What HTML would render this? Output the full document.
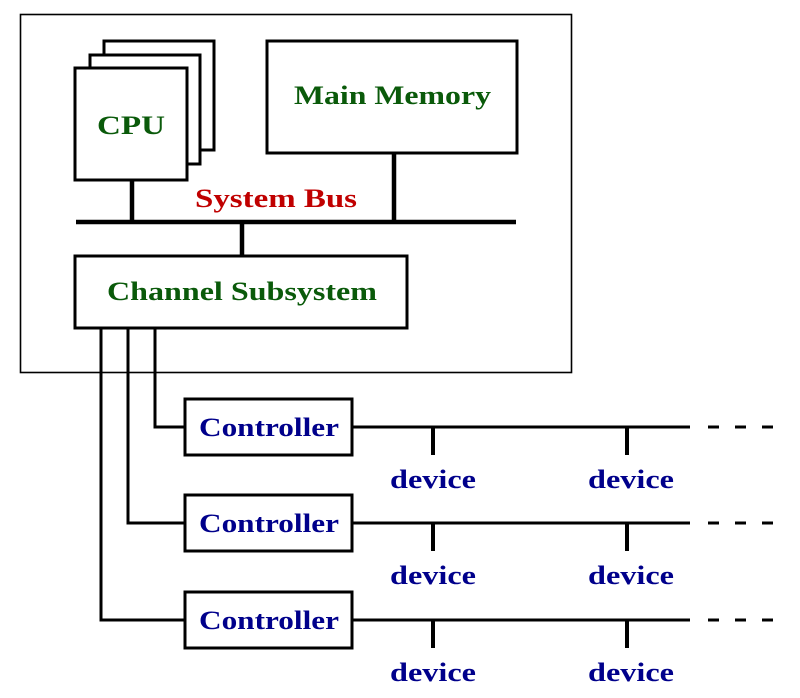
<!DOCTYPE html>
<html><head><meta charset="utf-8"><style>
html,body{margin:0;padding:0;background:#fff;}
svg text{font-family:"Liberation Serif","DejaVu Serif",serif;font-weight:bold;font-size:26px;}
</style></head><body>
<svg width="800" height="693" viewBox="0 0 800 693" xmlns="http://www.w3.org/2000/svg">
<rect x="20.5" y="14.5" width="551" height="358" fill="none" stroke="#000" stroke-width="1.6"/>
<g fill="#fff" stroke="#000" stroke-width="3">
<rect x="104" y="41" width="110" height="109"/>
<rect x="90" y="55" width="110" height="109"/>
<rect x="75" y="68" width="112" height="112"/>
<rect x="267" y="41" width="250" height="112"/>
<rect x="75" y="256" width="332" height="72"/>
<rect x="185" y="399" width="167" height="56"/>
<rect x="185" y="495" width="167" height="56"/>
<rect x="185" y="592" width="167" height="56"/>
</g>
<g stroke="#000" fill="none">
<line x1="76" y1="222" x2="516" y2="222" stroke-width="4.5"/>
<line x1="132" y1="180" x2="132" y2="222" stroke-width="4.5"/>
<line x1="394" y1="153" x2="394" y2="222" stroke-width="4.5"/>
<line x1="242" y1="222" x2="242" y2="256" stroke-width="4.5"/>
<g stroke-width="3">
<polyline points="155,328 155,427 185,427"/>
<polyline points="128,328 128,523 185,523"/>
<polyline points="101,328 101,620 185,620"/>
<line x1="352" y1="427" x2="690" y2="427"/>
<line x1="352" y1="523" x2="690" y2="523"/>
<line x1="352" y1="620" x2="690" y2="620"/>
<line x1="708" y1="427" x2="775" y2="427" stroke-dasharray="11,16"/>
<line x1="708" y1="523" x2="775" y2="523" stroke-dasharray="11,16"/>
<line x1="708" y1="620" x2="775" y2="620" stroke-dasharray="11,16"/>
</g>
<g stroke-width="4">
<line x1="433" y1="427" x2="433" y2="455"/>
<line x1="627" y1="427" x2="627" y2="455"/>
<line x1="433" y1="523" x2="433" y2="551"/>
<line x1="627" y1="523" x2="627" y2="551"/>
<line x1="433" y1="620" x2="433" y2="648"/>
<line x1="627" y1="620" x2="627" y2="648"/>
</g>
</g>
<g fill="#0a5a0a">
<text x="97" y="134" textLength="68" lengthAdjust="spacingAndGlyphs">CPU</text>
<text x="294" y="104" textLength="197" lengthAdjust="spacingAndGlyphs">Main Memory</text>
<text x="107" y="300" textLength="270" lengthAdjust="spacingAndGlyphs">Channel Subsystem</text>
</g>
<text x="195" y="207" fill="#c00000" textLength="162" lengthAdjust="spacingAndGlyphs">System Bus</text>
<g fill="#00008b">
<text x="199" y="436" textLength="140" lengthAdjust="spacingAndGlyphs">Controller</text>
<text x="199" y="532" textLength="140" lengthAdjust="spacingAndGlyphs">Controller</text>
<text x="199" y="629" textLength="140" lengthAdjust="spacingAndGlyphs">Controller</text>
<text x="390" y="488" textLength="86" lengthAdjust="spacingAndGlyphs">device</text>
<text x="588" y="488" textLength="86" lengthAdjust="spacingAndGlyphs">device</text>
<text x="390" y="584" textLength="86" lengthAdjust="spacingAndGlyphs">device</text>
<text x="588" y="584" textLength="86" lengthAdjust="spacingAndGlyphs">device</text>
<text x="390" y="681" textLength="86" lengthAdjust="spacingAndGlyphs">device</text>
<text x="588" y="681" textLength="86" lengthAdjust="spacingAndGlyphs">device</text>
</g>
</svg>
</body></html>
